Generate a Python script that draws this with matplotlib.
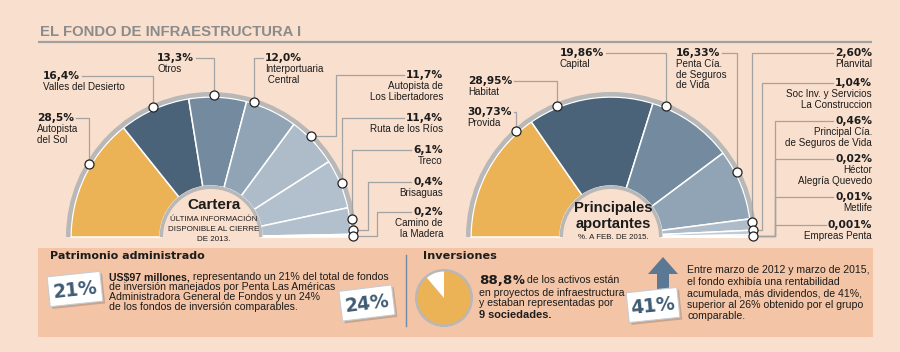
import matplotlib
matplotlib.use("Agg")
import numpy as np
import matplotlib.pyplot as plt
import matplotlib.transforms as mtransforms
from matplotlib import font_manager as fm
from matplotlib.patches import Wedge, Rectangle, Polygon, Circle

# ---------------- data ----------------
title = "EL FONDO DE INFRAESTRUCTURA I"
cartera_names = ["Autopista\ndel Sol", "Valles del Desierto", "Otros", "Interportuaria\n Central",
                 "Autopista de\nLos Libertadores", "Ruta de los Ríos", "Treco", "Brisaguas",
                 "Camino de\nla Madera"]
cartera_values = [28.5, 16.4, 13.3, 12.0, 11.7, 11.4, 6.1, 0.4, 0.2]
aportantes_names = ["Provida", "Habitat", "Capital", "Penta Cía.\nde Seguros\nde Vida", "Planvital",
                    "Soc Inv. y Servicios\nLa Construccion", "Principal Cía.\nde Seguros de Vida",
                    "Héctor\nAlegría Quevedo", "Metlife", "Empreas Penta"]
aportantes_values = [30.73, 28.95, 19.86, 16.33, 2.60, 1.04, 0.46, 0.02, 0.01, 0.001]
inversiones_pct = [88.8, 11.2]
patrimonio_pct = ["21%", "24%"]
rentabilidad_pct = "41%"

cartera_pct = [f"{v:.1f}".replace(".", ",") + "%" for v in cartera_values]
aportantes_pct = [(f"{v:.3f}" if v < 0.01 else f"{v:.2f}").replace(".", ",") + "%"
                  for v in aportantes_values]

# ---------------- fonts ----------------
_avail = {f.name for f in fm.fontManager.ttflist}
def fams(*names):
    return [n for n in names if n in _avail] + ["DejaVu Sans"]
HAS_NARROW = "Liberation Sans Narrow" in _avail
NARROW = fams("Liberation Sans Narrow", "Liberation Sans")
ARIAL = fams("Liberation Sans")
VERD = ["DejaVu Sans"]
NS = 1.0 if HAS_NARROW else 0.84

# ---------------- styles ----------------
BG = "#F9DFCD"
PANEL = "#F3C4A5"
RING = "#B8B8B8"
LEAD = "#A3A3A3"
INK = "#1C1C1C"
SLATE = "#3F5B74"
ORANGE = "#ECB256"
cartera_colors = [ORANGE, "#4A6379", "#748B9F", "#91A4B5", "#AEBCC9", "#B2BFCC", "#B2BFCC",
                  "#C9D3DC", "#DCE3E9"]
aportantes_colors = [ORANGE, "#4A6379", "#748B9F", "#91A4B5", "#AEBCC9", "#BECAD5", "#CCD5DE",
                     "#D6DEE5", "#DDE3E9", "#E3E8ED"]

fig = plt.figure(figsize=(9, 3.52), dpi=100, facecolor=BG)
ax = fig.add_axes([0, 0, 1, 1])
ax.set_xlim(0, 900)
ax.set_ylim(352, 0)
ax.axis("off")
REN = fig.canvas.get_renderer()


def txt(x, y, s, size, fam=NARROW, weight="normal", ha="left", va="center", color=INK, **kw):
    return ax.text(x, y, s, fontsize=size, family=fam, fontweight=weight, ha=ha, va=va,
                   color=color, **kw)


# ---------------- title ----------------
txt(40, 32, title, 12.2 if HAS_NARROW else 10.7, NARROW if HAS_NARROW else ARIAL,
    "bold", color="#8B8B8B")
ax.plot([38, 872], [41.5, 41.5], color="#A0A0A0", lw=1.6, solid_capstyle="butt")

R_OUT, R_IN, R_PIN = 140, 51, 142


def half_donut(cx, cy, values, colors):
    total = sum(values)
    spans = []
    start = 180.0
    for v, c in zip(values, colors):
        end = start - 180.0 * v / total
        ax.add_patch(Wedge((cx, cy), R_OUT, -start, -end, width=R_OUT - R_IN,
                           facecolor=c, edgecolor="white", lw=1.1, zorder=2))
        spans.append((start, end))
        start = end
    ax.add_patch(Wedge((cx, cy), R_OUT + 5, -180, 0, width=4.5, facecolor=RING,
                       edgecolor="none", zorder=2.5))
    ax.add_patch(Wedge((cx, cy), R_IN + 0.5, -180, 0, width=3.5, facecolor=RING,
                       edgecolor="none", zorder=2.5))
    return spans


def callouts(cx, cy, spans, pcts, names, layout, pin_frac, pin_group):
    raw = [s - f * (s - e) for (s, e), f in zip(spans, pin_frac)]
    groups = sorted(set(pin_group))
    gang = {g: raw[pin_group.index(g)] for g in groups}
    prev = None
    for g in reversed(groups):
        a = max(gang[g], 0.5 if prev is None else prev + 2.2)
        gang[g] = a
        prev = a
    pins = {}
    for i, (lx, ly, ha, xe) in enumerate(layout):
        a = np.radians(gang[pin_group[i]])
        px, py = cx + R_PIN * np.cos(a), cy - R_PIN * np.sin(a)
        pins[pin_group[i]] = (px, py)
        t = txt(lx, ly, pcts[i], 7.7, VERD, "bold", ha=ha, zorder=4)
        for k, line in enumerate(names[i].split("\n")):
            txt(lx, ly + 11 + 10.6 * k, line, 8.5 * NS, NARROW, ha=ha, zorder=4)
        bb = t.get_window_extent(REN)
        target = xe if xe is not None else px
        xs = bb.x1 + 2 if target > (bb.x0 + bb.x1) / 2 else bb.x0 - 2
        xsv = [xs, target, target]
        ysv = [ly, ly, py]
        if xe is not None:
            xsv.append(px)
            ysv.append(py)
        ax.plot(xsv, ysv, color=LEAD, lw=0.9, zorder=3)
    for px, py in pins.values():
        ax.plot(px, py, "o", ms=6.5, mfc="white", mec="#222222", mew=0.9, zorder=5)


# ---------------- left: Cartera ----------------
LCX, LCY = 211, 237
lspans = half_donut(LCX, LCY, cartera_values, cartera_colors)
left_layout = [(37, 118, "left", None), (43, 76, "left", None), (157, 58, "left", None),
               (265, 58, "left", None), (443, 75, "right", 336), (443, 118, "right", None),
               (443, 150, "right", None), (443, 182, "right", 368), (443, 212, "right", 377)]
callouts(LCX, LCY, lspans, cartera_pct, cartera_names, left_layout,
         [0.6, 0.5, 0.43, 0.13, 0.4, 0.49, 0.42, 0.5, 0.5], list(range(9)))
txt(214, 205, "Cartera", 11, ARIAL, "bold", ha="center", zorder=4)
for k, line in enumerate(["ÚLTIMA INFORMACIÓN", "DISPONIBLE AL CIERRE", "DE 2013."]):
    txt(214, 219.5 + 10 * k, line, 6.9 * NS, NARROW, ha="center", zorder=4)

# ---------------- right: Principales aportantes ----------------
RCX, RCY = 611, 237
rspans = half_donut(RCX, RCY, aportantes_values, aportantes_colors)
right_layout = [(467, 112, "left", None), (468, 81, "left", None), (560, 53, "left", None),
                (676, 53, "left", None), (872, 53, "right", None), (872, 83, "right", 762),
                (872, 121, "right", 775), (872, 159, "right", 775), (872, 197, "right", 775),
                (872, 225, "right", 775)]
callouts(RCX, RCY, rspans, aportantes_pct, aportantes_names, right_layout,
         [0.87, 0.24, 0.15, 0.32, 0.32, 0.2, 0.5, 0.5, 0.5, 0.5],
         [0, 1, 2, 3, 4, 5, 6, 6, 6, 6])
txt(613, 208, "Principales", 10.6, ARIAL, "bold", ha="center", zorder=4)
txt(613, 224, "aportantes", 10.6, ARIAL, "bold", ha="center", zorder=4)
txt(613, 237.5, "%. A FEB. DE 2015.", 6.7 * NS, NARROW, ha="center", zorder=4)

# ---------------- bottom panel ----------------
ax.add_patch(Rectangle((38, 247.5), 835, 89.5, facecolor=PANEL, edgecolor="none", zorder=1))
ax.plot([406, 406], [255, 326], color="#6E8BA8", lw=1, zorder=2)


def runs(x, y, parts):
    for s, size, fam, weight in parts:
        t = txt(x, y, s, size, fam, weight, zorder=4)
        x = t.get_window_extent(REN).x1


def tag(cx, cy, w, h, rot, s):
    tr = mtransforms.Affine2D().rotate_deg_around(cx, cy, -rot) + ax.transData
    ax.add_patch(Rectangle((cx - w / 2 + 2, cy - h / 2 + 2.5), w, h, facecolor="#7d6a60",
                           alpha=0.35, edgecolor="none", transform=tr, zorder=5))
    ax.add_patch(Rectangle((cx - w / 2, cy - h / 2), w, h, facecolor="white",
                           edgecolor="#C7CCD2", lw=0.8, transform=tr, zorder=6))
    ax.text(cx, cy + 1, s, fontsize=13.5, family=VERD, fontweight="bold", color=SLATE,
            ha="center", va="center", rotation=rot, rotation_mode="anchor", zorder=7)


txt(50, 256, "Patrimonio administrado", 8.0, VERD, "bold", zorder=4)
tag(75, 289, 53, 30, 6, patrimonio_pct[0])
PS = 9.05 * NS
runs(109, 277, [("US$97 millones,", PS, NARROW, "bold"),
                (" representando un 21% del total de fondos", PS, NARROW, "normal")])
txt(109, 287.5, "de inversión manejados por Penta Las Américas", PS, zorder=4)
txt(109, 297, "Administradora General de Fondos y un 24%", PS, zorder=4)
txt(109, 307, "de los fondos de inversión comparables.", PS, zorder=4)
tag(367, 303, 53, 30, 7, patrimonio_pct[1])

txt(423, 256, "Inversiones", 8.1, VERD, "bold", zorder=4)
PCX, PCY = 444, 298
ax.add_patch(Circle((PCX, PCY), 29, facecolor=RING, edgecolor="none", zorder=2))
share_total = sum(inversiones_pct)
a0 = 90.0
for v, c in zip(inversiones_pct, [ORANGE, "white"]):
    a1 = a0 - 360.0 * v / share_total
    ax.add_patch(Wedge((PCX, PCY), 26.5, -a0, -a1, facecolor=c, edgecolor="none", zorder=3))
    a0 = a1
runs(479, 280, [(f"{inversiones_pct[0]:.1f}".replace(".", ","), 9.6, VERD, "bold"),
                ("%", 8.6, VERD, "bold"),
                (" de los activos están", PS, NARROW, "normal")])
txt(479, 292.5, "en proyectos de infraestructura", PS, zorder=4)
txt(479, 303.5, "y estaban representadas por", PS, zorder=4)
txt(479, 314.5, "9 sociedades.", PS + 0.3, NARROW, "bold", zorder=4)

ax.add_patch(Polygon([(657, 300), (657, 274), (648, 274), (663, 257), (678, 274),
                      (669, 274), (669, 300)], closed=True, facecolor="#5B7995",
                     edgecolor="none", zorder=4))
tag(653, 305, 51, 30, 6, rentabilidad_pct)
for k, line in enumerate(["Entre marzo de 2012 y marzo de 2015,",
                          "el fondo exhibía una rentabilidad",
                          "acumulada, más dividendos, de 41%,",
                          "superior al 26% obtenido por el grupo",
                          "comparable."]):
    txt(687, 270 + 11.6 * k, line, PS, zorder=4)

fig.savefig("out.png", dpi=100, facecolor=BG)
